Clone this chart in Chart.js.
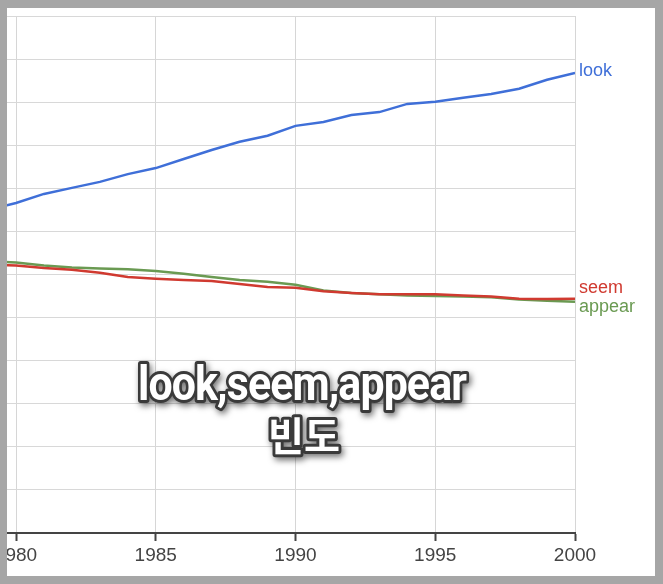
<!DOCTYPE html>
<html>
<head>
<meta charset="utf-8">
<script src="https://cdn.jsdelivr.net/npm/chart.js@4/dist/chart.umd.min.js"></script>
<style>
  html, body { margin: 0; padding: 0; background: #fff; overflow: hidden; }
  #wrap { position: relative; width: 663px; height: 584px; }
  #chart { display: block; }
  #frame {
    position: absolute; left: 0; top: 0; width: 663px; height: 584px;
    box-sizing: border-box; border-style: solid; border-color: #a6a6a6;
    border-width: 8px 8px 8px 7px; pointer-events: none;
  }
</style>
</head>
<body>
<div id="wrap"><canvas id="chart"></canvas><div id="frame"></div></div>
<script>
// data (y in grid units, 12 gridlines, labels hidden)
const years = [1979, 1980, 1981, 1982, 1983, 1984, 1985, 1986, 1987, 1988, 1989,
               1990, 1991, 1992, 1993, 1994, 1995, 1996, 1997, 1998, 1999, 2000];
const lookValues = [7.50, 7.66, 7.87, 8.01, 8.15, 8.33, 8.47, 8.68, 8.89, 9.08, 9.22,
                    9.45, 9.54, 9.70, 9.77, 9.96, 10.01, 10.10, 10.19, 10.31, 10.52, 10.68];
const seemValues = [6.23, 6.21, 6.15, 6.11, 6.04, 5.94, 5.90, 5.87, 5.85, 5.78, 5.71,
                    5.69, 5.61, 5.57, 5.54, 5.54, 5.54, 5.51, 5.49, 5.44, 5.43, 5.44];
const appearValues = [6.31, 6.28, 6.21, 6.16, 6.14, 6.12, 6.08, 6.02, 5.94, 5.87, 5.83,
                      5.76, 5.63, 5.57, 5.54, 5.51, 5.50, 5.49, 5.47, 5.42, 5.39, 5.37];
const seriesNames = ["look", "seem", "appear"];
const xTicks = [1980, 1985, 1990, 1995, 2000];
const titleLines = ["look,seem,appear", "빈도"];

const seriesColors = ["#3f6fd8", "#d03a30", "#6a9a52"];

function toPoints(values) {
  return years.map((yr, i) => ({ x: yr, y: values[i] }));
}

// series name at the right end of each line
const endLabels = {
  id: "endLabels",
  afterDatasetsDraw(chart) {
    const shift = [3, -6, 10];
    const ctx = chart.ctx;
    ctx.save();
    ctx.font = "18px 'Liberation Sans', Arial, sans-serif";
    ctx.textAlign = "left";
    ctx.textBaseline = "alphabetic";
    chart.data.datasets.forEach((ds, i) => {
      const meta = chart.getDatasetMeta(i);
      const pt = meta.data[meta.data.length - 1];
      ctx.fillStyle = ds.borderColor;
      ctx.fillText(ds.label, pt.x + 4, pt.y + shift[i]);
    });
    ctx.restore();
  }
};

function outlinedText(ctx, text, x, y, font, width, spacing) {
  ctx.save();
  ctx.font = font;
  ctx.letterSpacing = spacing + "px";
  const w = ctx.measureText(text).width;
  ctx.translate(x, y);
  ctx.scale(width / w, 1);
  ctx.textAlign = "center";
  ctx.textBaseline = "alphabetic";
  ctx.lineJoin = "round";
  ctx.shadowColor = "rgba(0,0,0,0.55)";
  ctx.shadowBlur = 6;
  ctx.shadowOffsetX = 2;
  ctx.shadowOffsetY = 3;
  ctx.lineWidth = 6;
  ctx.strokeStyle = "#3a3a3a";
  ctx.strokeText(text, 0, 0);
  ctx.shadowColor = "transparent";
  ctx.fillStyle = "#ffffff";
  ctx.fillText(text, 0, 0);
  ctx.restore();
}

// caption in the middle of the plot
const overlayTitle = {
  id: "overlayTitle",
  afterDraw(chart) {
    const ctx = chart.ctx;
    outlinedText(ctx, titleLines[0], 302, 400, "bold 48px Roboto, sans-serif", 328, -1);
    outlinedText(ctx, titleLines[1], 304, 451, "bold 40px 'Noto Sans CJK KR'", 72, 0);
  }
};

function init() {
  const ctx = document.getElementById("chart").getContext("2d");
  const valueSets = [lookValues, seemValues, appearValues];

  new Chart(ctx, {
    type: "line",
    data: {
      datasets: seriesNames.map((name, i) => ({
        label: name,
        data: toPoints(valueSets[i]),
        borderColor: seriesColors[i],
        backgroundColor: seriesColors[i],
        borderWidth: 2.5,
        pointRadius: 0,
        tension: 0,
        clip: { left: 20, top: 0, right: 0, bottom: 0 }
      }))
    },
    options: {
      responsive: true,
      maintainAspectRatio: false,
      animation: false,
      layout: { autoPadding: false, padding: { left: 0, top: 16, right: 88, bottom: 0 } },
      plugins: { legend: { display: false }, tooltip: { enabled: false } },
      scales: {
        x: {
          type: "linear",
          min: 1980,
          max: 2000,
          afterBuildTicks: scale => { scale.ticks = xTicks.map(v => ({ value: v })); },
          afterFit: scale => {
            scale.height = 51;
            scale.paddingLeft = 0;
            scale.paddingRight = 0;
          },
          grid: { color: "#d6d6d6", lineWidth: 1, tickColor: "#444", tickWidth: 2, tickLength: 8 },
          border: { display: true, color: "#444", width: 2 },
          ticks: {
            color: "#444",
            padding: 3,
            font: { family: "'Liberation Sans', Arial, sans-serif", size: 19 },
            callback: v => String(v)
          }
        },
        y: {
          min: 0,
          max: 12,
          afterFit: scale => {
            scale.width = 16;
            scale.paddingTop = 0;
            scale.paddingBottom = 0;
          },
          ticks: { display: false, stepSize: 1 },
          grid: {
            color: c => (c.tick && c.tick.value === 0 ? "#444" : "#d8d8d8"),
            lineWidth: c => (c.tick && c.tick.value === 0 ? 2 : 1),
            tickLength: 16
          },
          border: { display: false }
        }
      }
    },
    plugins: [endLabels, overlayTitle]
  });
}

document.addEventListener("DOMContentLoaded", init);
</script>
</body>
</html>
